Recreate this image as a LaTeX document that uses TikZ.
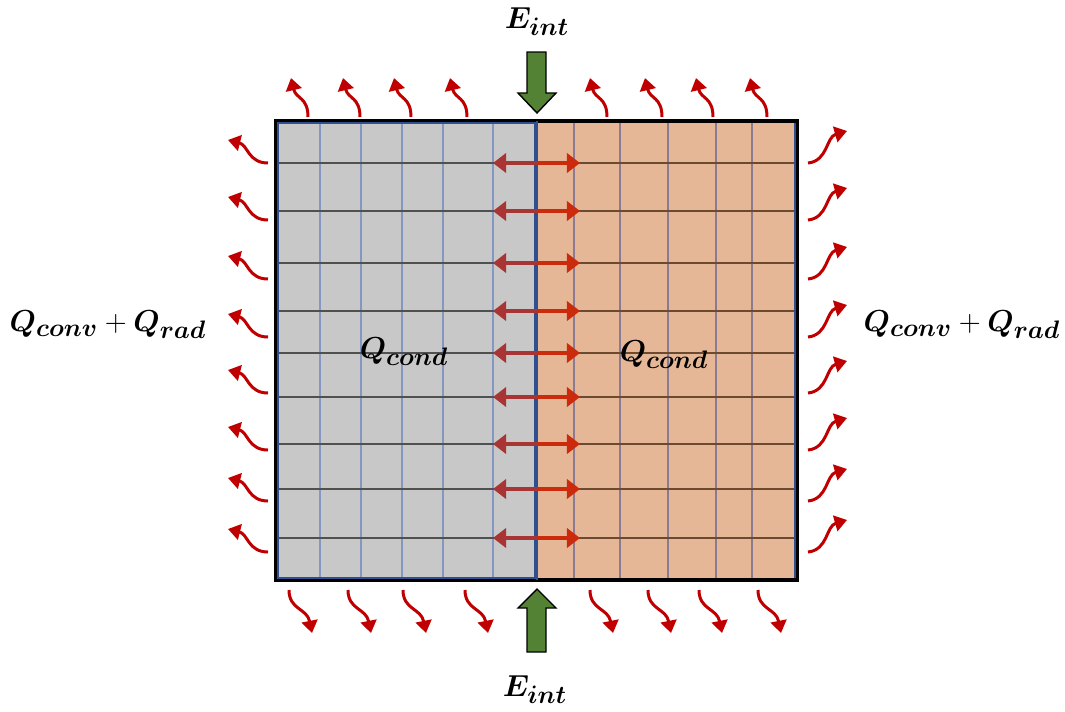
\documentclass[tikz,border=0pt]{standalone}
\usepackage{amsmath}
\usepackage{bm}
\usetikzlibrary{arrows.meta}

\definecolor{wallgray}{HTML}{C8C8C8}
\definecolor{wallorange}{HTML}{E6B796}
\definecolor{gridblue}{HTML}{8397C2}
\definecolor{gridpurple}{HTML}{8A7A92}
\definecolor{griddark}{HTML}{505050}
\definecolor{gridbrown}{HTML}{6B4A30}
\definecolor{edgeblue}{HTML}{2F4F8F}
\definecolor{heatred}{HTML}{C00000}
\definecolor{condleft}{HTML}{A93434}
\definecolor{condright}{HTML}{CC2A0C}
\definecolor{intgreen}{HTML}{548235}

\begin{document}
\begin{tikzpicture}[x=0.02cm,y=-0.02cm,
    heat/.style={draw=heatred,line width=1.7pt,-{Triangle[length=7pt,width=9pt]}},
    cond/.style={line width=2.4pt,-{Triangle[length=7.5pt,width=11pt]}},
    lbl/.style={font=\fontsize{19}{22}\selectfont}]
    \useasboundingbox (0,0) rectangle (1065,711);
    \fill[wallgray] (276,121) rectangle (537,580);
    \fill[wallorange] (537,121) rectangle (797,580);
    \foreach \x in {320,361,402,443,493}
        \draw[gridblue,line width=0.7pt] (\x,121)--(\x,580);
    \foreach \x in {574,620,668,716,752}
        \draw[gridpurple,line width=0.7pt] (\x,121)--(\x,580);
    \foreach \y in {163,211,263,311,353,397,444,489,538} {
        \draw[griddark,line width=0.7pt] (276,\y)--(537,\y);
        \draw[gridbrown,line width=0.7pt] (537,\y)--(797,\y);
    }
    \draw[line width=2.4pt] (276,121) rectangle (797,580);
    \draw[edgeblue,line width=0.8pt] (278,123) rectangle (535,578);
    \draw[edgeblue,line width=0.8pt] (795,123)--(795,578);
    \draw[edgeblue,line width=1.6pt] (537,121)--(537,580);
    \foreach \y in {163,211,263,311,353,397,444,489,538} {
        \draw[cond,condleft] (537,\y)--(493,\y);
        \draw[cond,condright] (537,\y)--(580,\y);
    }
    \foreach \x in {308,360,411,467,607,662,713,767}
        \draw[heat,shift={(\x,117)}] (0,0) .. controls (0,-20) and (-12,-18) .. (-17,-39);
    \foreach \x in {289,348,403,465,590,648,699,758}
        \draw[heat,shift={(\x,590)}] (0,0) .. controls (0,20) and (18,18) .. (23,43);
    \foreach \y in {163,220,279,337,393,450,501,552} {
        \draw[heat,shift={(268,\y)}] (0,0) .. controls (-20,0) and (-20,-18) .. (-40,-23);
        \draw[heat,shift={(808,\y)}] (0,0) .. controls (20,-2) and (18,-26) .. (39,-32);
    }
    \draw[fill=intgreen,line width=0.8pt] (527,52)--(546,52)--(546,93)--(556,93)--(537,113)--(518,93)--(527,93)--cycle;
    \draw[fill=intgreen,line width=0.8pt] (527,652)--(546,652)--(546,608)--(556,608)--(537,589)--(518,608)--(527,608)--cycle;
    \node[lbl] (eintop) at (537,22) {$\bm{E_{int}}$};
    \node[lbl] (eintbot) at (535,690) {$\bm{E_{int}}$};
    \node[lbl] (qsurfleft) at (108,325) {$\bm{Q_{conv}}+\bm{Q_{rad}}$};
    \node[lbl] (qsurfright) at (962,325) {$\bm{Q_{conv}}+\bm{Q_{rad}}$};
    \node[lbl] (qcondleft) at (404,352) {$\bm{Q_{cond}}$};
    \node[lbl] (qcondright) at (664,355) {$\bm{Q_{cond}}$};
\end{tikzpicture}
\end{document}
